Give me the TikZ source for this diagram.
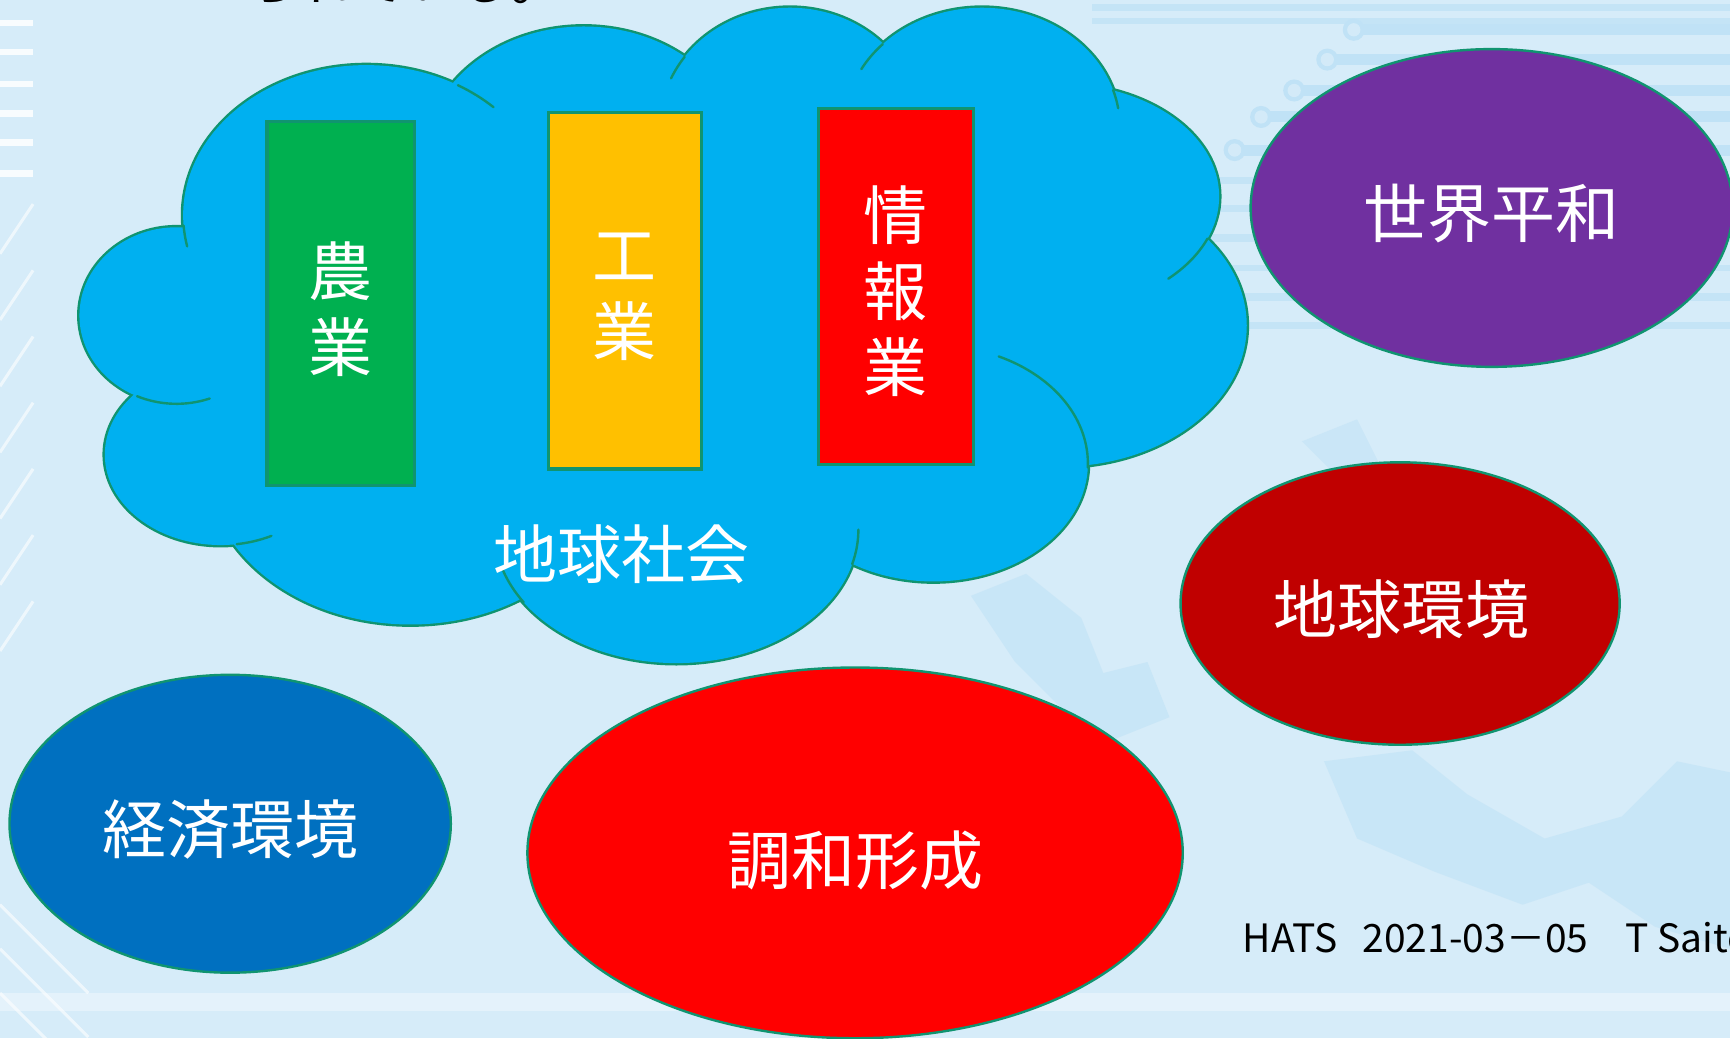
\documentclass[tikz,border=0pt]{standalone}
\usepackage{fontspec}
\setmainfont{Noto Sans CJK JP}
\usetikzlibrary{shapes.geometric}
\definecolor{bg}{RGB}{214,236,249}
\definecolor{stripe}{RGB}{192,226,246}
\definecolor{cloudblue}{RGB}{0,176,240}
\definecolor{edge}{RGB}{16,148,112}
\definecolor{agrigreen}{RGB}{0,176,80}
\definecolor{indyellow}{RGB}{255,192,0}
\definecolor{infored}{RGB}{255,0,0}
\definecolor{peacepurple}{RGB}{112,48,160}
\definecolor{earthred}{RGB}{192,0,0}
\definecolor{econblue}{RGB}{0,112,192}
\newcommand\pxu{0.5517pt}
\begin{document}
\begin{tikzpicture}[x=0.5517pt,y=-0.5517pt,
  bar/.style={draw=edge, line width=1.6pt, inner sep=0pt},
  oval/.style={ellipse, draw=edge, line width=1.2pt, inner sep=0pt},
  bigtext/.style={text=white, inner sep=0pt, align=center, font=\fontsize{32}{38}\selectfont},
  tail/.style={draw=edge, line width=1.2pt, line cap=round}]
\useasboundingbox (0,0) rectangle (1568,941);
\clip (0,0) rectangle (1568,941);
% background
\fill[bg] (0,0) rectangle (1568,941);
\foreach \y/\h in {4/6,16/6,160/7,186/6,212/7,240/6,266/7,292/6}
  \fill[stripe,opacity=.8] (990,\y) rectangle (1568,\y+\h);
\foreach \y/\x in {27/1227,54/1203,82/1173,106/1143,136/1119}{
  \fill[stripe] (\x,\y-5) rectangle (1568,\y+5);
  \fill[stripe] (\x,\y) circle[radius=10];
  \fill[white,opacity=.3] (\x,\y) circle[radius=6];
}
\fill[stripe,opacity=.6] (880,540) -- (930,520) -- (980,560) -- (1000,610) -- (1040,600) -- (1060,650) -- (1010,670) -- (960,640) -- (920,600) -- cycle;
\fill[stripe,opacity=.6] (1200,690) -- (1280,680) -- (1330,720) -- (1400,760) -- (1470,740) -- (1520,690) -- (1568,700) -- (1568,860) -- (1500,840) -- (1440,800) -- (1380,820) -- (1300,790) -- (1230,760) -- cycle;
\fill[stripe,opacity=.5] (1180,400) -- (1230,380) -- (1250,420) -- (1220,440) -- cycle;
\foreach \y in {18,44,73,100,126,154}
  \fill[white,opacity=.85] (0,\y) rectangle (30,\y+6);
\foreach \y in {230,290,350,410,470,530,590}
  \draw[white,opacity=.6,line width=1.5pt] (0,\y) -- (30,\y-45);
\foreach \y in {820,860,900}
  \draw[white,opacity=.6,line width=1.5pt] (0,\y) -- (80,\y+80);
\fill[white,opacity=.35] (0,900) rectangle (1568,916);
% top cut text
\node[anchor=base west, inner sep=0pt, font=\fontsize{26.5}{28}\selectfont] (toptext) at (224,0) {られている。};
% cloud
\foreach \cx/\cy/\rx/\ry in {160/286/88/80,200/412/105/82,372/420/185/146,613/480/165/121,846/420/140/107,960/295/170/128,960/178/145/102,890/115/125/108,716/115/118/108,529/145/145/121,332/195/166/136}
  \draw[draw=edge, line width=2.4pt, fill=cloudblue] (\cx,\cy) ellipse[x radius=\rx, y radius=\ry];
\foreach \cx/\cy/\rx/\ry in {160/286/88/80,200/412/105/82,372/420/185/146,613/480/165/121,846/420/140/107,960/295/170/128,960/178/145/102,890/115/125/108,716/115/118/108,529/145/145/121,332/195/166/136,600/300/380/200}
  \fill[cloudblue] (\cx,\cy) ellipse[x radius=\rx, y radius=\ry];
\foreach \cx/\cy/\rx/\ry/\a/\b in {160/286/88/80/114/70, 200/412/105/82/82/64, 613/480/165/121/147/162, 613/480/165/121/15/0, 846/420/140/107/2/-65, 960/178/145/102/22/47, 890/115/125/108/-18/-9, 890/115/125/108/224/209, 716/115/118/108/216/204, 332/195/166/136/-60/-46, 332/195/166/136/176/168}
  \draw[tail] ({\cx+\rx*cos(\a)},{\cy+\ry*sin(\a)}) arc[start angle=\a, end angle=\b, x radius=\rx, y radius=\ry];
% bars
\node[bar, fill=agrigreen, minimum width=134*\pxu, minimum height=330*\pxu] (agri) at (309,275) {};
\node[bar, fill=indyellow, minimum width=139*\pxu, minimum height=323*\pxu] (ind) at (566.5,263.5) {};
\node[bar, fill=infored, minimum width=140*\pxu, minimum height=323*\pxu] (info) at (812,259.5) {};
\node[bigtext] (agriT) at (309,280.5) {農\\業};
\node[bigtext] (indT) at (566,269) {工\\業};
\node[bigtext] (infoT) at (812,264) {情\\報\\業};
\node[bigtext] (societyT) at (563,502) {地球社会};
% ovals
\node[oval, fill=peacepurple, minimum width=437*\pxu, minimum height=288*\pxu] (peace) at (1352,188.5) {};
\node[oval, fill=earthred, minimum width=398*\pxu, minimum height=256*\pxu] (earth) at (1269,547) {};
\node[oval, fill=econblue, minimum width=400*\pxu, minimum height=270*\pxu] (econ) at (208.6,746.6) {};
\node[oval, fill=infored, minimum width=594*\pxu, minimum height=336*\pxu] (harmony) at (775,773) {};
\node[bigtext] (peaceT) at (1351.5,193.5) {世界平和};
\node[bigtext] (earthT) at (1270,552) {地球環境};
\node[bigtext] (econT) at (209,752) {経済環境};
\node[bigtext] (harmonyT) at (775,780) {調和形成};
% footer
\node[anchor=base west, inner sep=0pt, font=\fontsize{19.5}{20}\selectfont] (footer) at (1126,863.5) {HATS\hspace{0.65em}2021-03－05\hspace{0.95em}T Saito};
\end{tikzpicture}
\end{document}
